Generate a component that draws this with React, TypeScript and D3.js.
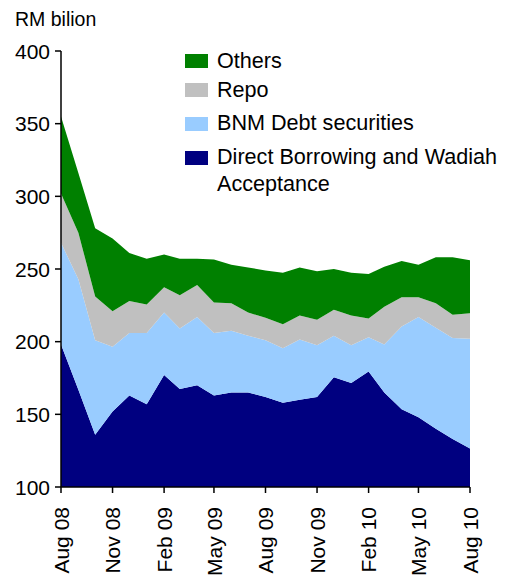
import React from "react";
import * as d3 from "d3";

const months = d3.range(25).map((i) => new Date(2008, 7 + i, 1));
const tickLabels = ["Aug 08", "Nov 08", "Feb 09", "May 09", "Aug 09", "Nov 09", "Feb 10", "May 10", "Aug 10"];
const yTicks = [100, 150, 200, 250, 300, 350, 400];

const directBorrowing = [198, 167, 136, 152, 163, 157, 177, 167.5, 170, 163, 165, 165, 162, 158, 160, 162, 175.5, 171.5, 179.5, 165, 153.5, 148, 140, 133, 126.5];
const bnmDebt = [70, 76, 65, 44.5, 43, 49, 43, 41.5, 47, 43, 42.5, 39, 39, 37.5, 41.5, 35.5, 28.5, 26, 23.5, 33, 57, 69, 69.5, 69.5, 75.5];
const repo = [34, 32, 30, 24.5, 22, 19.5, 17.5, 23, 22, 21, 19, 16, 15.5, 16.5, 16.5, 17.5, 18, 20.5, 13, 26, 20, 13.5, 17, 16, 17.5];
const others = [53, 41, 47, 50, 33, 31.5, 22.5, 25, 18, 29.5, 26.5, 31, 32.5, 35.5, 33, 33.5, 28, 29.5, 30.5, 27.5, 25, 22.5, 31.5, 39.5, 36.5];

const seriesKeys = ["db", "bnm", "repo", "others"];
const seriesColors: Record<string, string> = { db: "#000080", bnm: "#99CCFF", repo: "#C0C0C0", others: "#008000" };
const legendItems = [
  { key: "others", lines: ["Others"] },
  { key: "repo", lines: ["Repo"] },
  { key: "bnm", lines: ["BNM Debt securities"] },
  { key: "db", lines: ["Direct Borrowing and Wadiah", "Acceptance"] },
];

const FONT = "'Liberation Sans', Arial, sans-serif";

export default function App() {
  const W = 508, H = 580;
  const left = 61, right = 470, top = 51, bottom = 487;
  const x = d3.scaleTime().domain([months[0], months[24]]).range([left, right]);
  const y = d3.scaleLinear().domain([100, 400]).range([bottom, top]).clamp(true);

  const table = months.map((m, i) => ({ date: m, db: directBorrowing[i], bnm: bnmDebt[i], repo: repo[i], others: others[i] }));
  const stack = d3.stack<any>().keys(seriesKeys)(table);
  const area = d3.area<any>().x((d) => x(d.data.date)).y0((d) => y(d[0])).y1((d) => y(d[1]));

  const tickDates = d3.range(0, 25, 3).map((i) => months[i]);

  const legendRows = [
    { sw: 54, base: [68] },
    { sw: 83, base: [97] },
    { sw: 117, base: [130] },
    { sw: 151, base: [164, 191] },
  ];

  return (
    <svg width={W} height={H} style={{ position: "absolute", left: 0, top: 0 }} fontFamily={FONT}>
      <text x={15} y={26} fontSize={19.5} fill="#000">RM bilion</text>
      {stack.map((s) => (
        <path key={s.key} d={area(s) || ""} fill={seriesColors[s.key]} stroke="none" />
      ))}
      {/* y axis */}
      <line x1={left} x2={left} y1={top} y2={bottom} stroke="#000" strokeWidth={1.5} />
      {yTicks.map((t) => (
        <g key={t}>
          <line x1={left - 6} x2={left} y1={y(t)} y2={y(t)} stroke="#000" strokeWidth={1.5} />
          <text x={left - 11} y={y(t)} dy="0.36em" textAnchor="end" fontSize={21} fill="#000">{t}</text>
        </g>
      ))}
      {/* x axis */}
      <line x1={left} x2={right} y1={bottom} y2={bottom} stroke="#000" strokeWidth={1.5} />
      {tickDates.map((d, i) => (
        <g key={i}>
          <line x1={x(d)} x2={x(d)} y1={bottom} y2={bottom + 6} stroke="#000" strokeWidth={1.5} />
          <text transform={`translate(${x(d)},${bottom + 20}) rotate(-90)`} dy="0.36em" textAnchor="end" fontSize={21} fill="#000">{tickLabels[i]}</text>
        </g>
      ))}
      {/* legend */}
      {legendItems.map((item, i) => (
        <g key={item.key}>
          <rect x={185} y={legendRows[i].sw} width={23} height={14} fill={seriesColors[item.key]} />
          {item.lines.map((ln, j) => (
            <text key={j} x={217} y={legendRows[i].base[j]} fontSize={21.6} fill="#000">{ln}</text>
          ))}
        </g>
      ))}
    </svg>
  );
}
